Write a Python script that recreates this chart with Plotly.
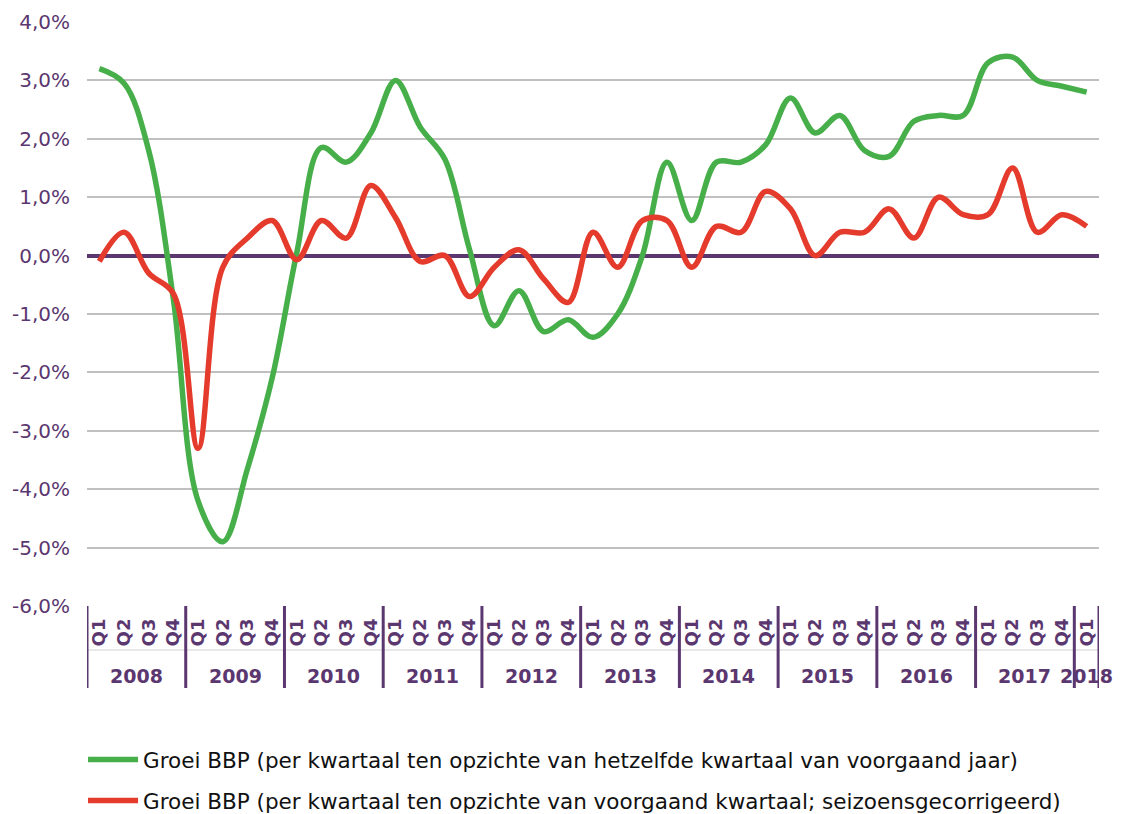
import plotly.graph_objects as go

years = ["2008", "2009", "2010", "2011", "2012", "2013", "2014", "2015", "2016", "2017", "2018"]
quarters = ["Q1", "Q2", "Q3", "Q4"]
categories = [f"{y}-{q}" for y in years for q in quarters][:41]
quarter_labels = [c.split("-")[1] for c in categories]

green_yoy = [3.2, 2.95, 1.8, -0.75, -4.2, -4.9, -3.65, -2.1, 0.05, 1.85, 1.6, 2.1,
             3.0, 2.2, 1.65, 0.1, -1.2, -0.6, -1.3, -1.1, -1.4, -1.0, 0.0, 1.6,
             0.6, 1.6, 1.6, 1.9, 2.7, 2.1, 2.4, 1.8, 1.7, 2.3, 2.4, 2.4,
             3.3, 3.4, 3.0, 2.9, 2.8]
red_qoq = [-0.1, 0.4, -0.3, -0.65, -3.3, -0.2, 0.3, 0.6, -0.07, 0.6, 0.3, 1.2,
           0.65, -0.1, 0.0, -0.7, -0.2, 0.1, -0.4, -0.8, 0.4, -0.2, 0.6, 0.6,
           -0.2, 0.5, 0.4, 1.1, 0.8, 0.0, 0.4, 0.4, 0.8, 0.3, 1.0, 0.7,
           0.7, 1.5, 0.4, 0.7, 0.5]

y_ticks = [4, 3, 2, 1, 0, -1, -2, -3, -4, -5, -6]
y_tick_text = ["4,0%", "3,0%", "2,0%", "1,0%", "0,0%", "-1,0%", "-2,0%", "-3,0%", "-4,0%", "-5,0%", "-6,0%"]

name_green = "Groei BBP (per kwartaal ten opzichte van hetzelfde kwartaal van voorgaand jaar)"
name_red = "Groei BBP (per kwartaal ten opzichte van voorgaand kwartaal; seizoensgecorrigeerd)"

PURPLE = "#5B376F"
GREEN = "#47AF4A"
RED = "#E43B2C"

fig = go.Figure()
fig.add_trace(go.Scatter(x=categories, y=green_yoy, mode="lines", name=name_green,
                         legendgroup="g", line=dict(color=GREEN, width=5.5, shape="spline", smoothing=1.0)))
fig.add_trace(go.Scatter(x=categories, y=red_qoq, mode="lines", name=name_red,
                         legendgroup="r", line=dict(color=RED, width=5.5, shape="spline", smoothing=1.0)))

shapes = []
# level separator
shapes.append(dict(type="line", xref="x", yref="paper", x0=-0.5, x1=len(categories) - 0.5,
                   y0=-0.0753, y1=-0.0753, line=dict(color="#D0D0D0", width=1)))
# dividers between years
bounds = [-0.5] + [3.5 + 4 * k for k in range(10)] + [len(categories) - 0.5]
for b in bounds:
    shapes.append(dict(type="line", xref="x", yref="paper", x0=b, x1=b, y0=0, y1=-0.1404,
                       line=dict(color=PURPLE, width=3)))

annotations = []
for i, yr in enumerate(years):
    idxs = [k for k, c in enumerate(categories) if c.startswith(yr)]
    center = (idxs[0] + idxs[-1]) / 2
    annotations.append(dict(x=center, y=-0.1199, xref="x", yref="paper", text=yr, showarrow=False,
                            xanchor="center", yanchor="middle",
                            font=dict(family="DejaVu Sans", size=19, color=PURPLE, weight="bold")))

fig.update_layout(
    width=1122, height=814,
    margin=dict(l=87, r=23, t=22, b=208, autoexpand=False),
    paper_bgcolor="white", plot_bgcolor="white",
    showlegend=True,
    legend=dict(xref="container", yref="container", x=0.074, y=0.092, xanchor="left", yanchor="top",
                font=dict(family="DejaVu Sans", size=21.5, color="#111111"),
                itemwidth=50, tracegroupgap=10, traceorder="grouped",
                bgcolor="rgba(0,0,0,0)"),
    shapes=shapes,
    annotations=annotations,
    xaxis=dict(type="category", range=[-0.5, len(categories) - 0.5],
               tickmode="array", tickvals=categories, ticktext=quarter_labels,
               tickangle=-90, showgrid=False, showline=False, zeroline=False,
               ticks="", ticklabelstandoff=8,
               tickfont=dict(family="DejaVu Sans", size=18, color=PURPLE, weight="bold")),
    yaxis=dict(range=[-6, 4], tickmode="array", tickvals=y_ticks, ticktext=y_tick_text,
               showgrid=True, gridcolor="#C0C0C0", gridwidth=2,
               zeroline=True, zerolinecolor=PURPLE, zerolinewidth=4,
               showline=False, ticks="", ticklabelstandoff=16,
               tickfont=dict(family="DejaVu Sans", size=20, color=PURPLE)),
)

fig.write_html("out.html", config={"displayModeBar": False},
               post_script="document.body.style.margin='0';document.body.style.padding='0';")
